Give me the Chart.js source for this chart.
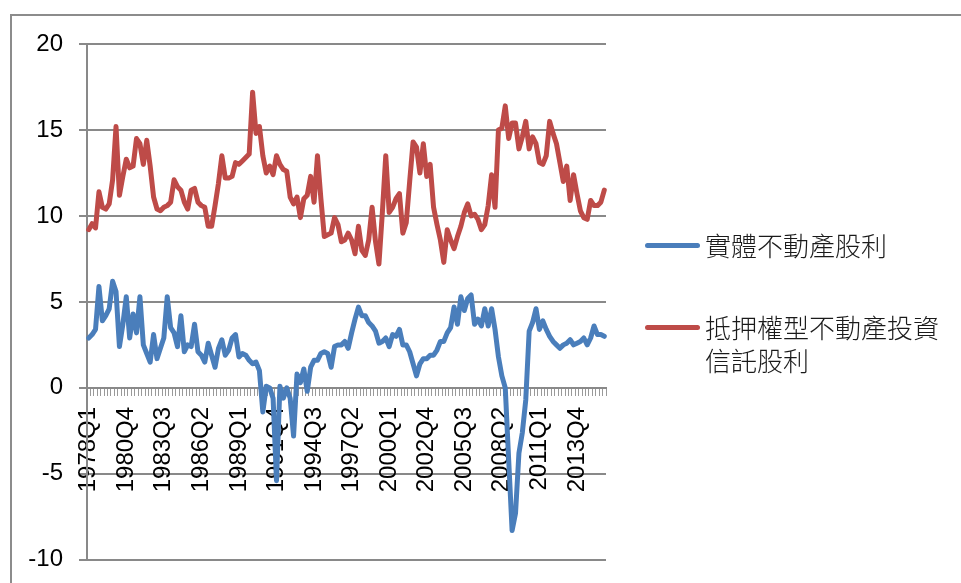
<!DOCTYPE html>
<html>
<head>
<meta charset="utf-8">
<script src="https://cdn.jsdelivr.net/npm/chart.js@4/dist/chart.umd.min.js"></script>
<style>
    body { margin: 0; background: #fff; }
    #wrap { position: relative; width: 961px; height: 583px; overflow: hidden; }
    #frame { position: absolute; left: 10px; top: 14px; width: 1000px; height: 600px; border-top: 2px solid #8c8c8c; border-left: 2px solid #8c8c8c; }
    #chart { position: absolute; left: 0; top: 0; }
    .item { position: absolute; left: 645px; font-family: "Noto Sans CJK TC", "Noto Sans", sans-serif; font-weight: 300; font-size: 26px; line-height: 33px; color: #1a1a1a; }
    .item .swatch { position: absolute; left: 0; width: 55px; height: 5px; border-radius: 3px; }
    .item .text { position: absolute; left: 60px; width: 240px; }
</style>
</head>
<body>
<div id="wrap">
    <div id="frame"></div>
    <canvas id="chart" width="961" height="583"></canvas>
    <div id="legend"></div>
</div>
<script>
// quarterly, 1978Q1 .. 2015Q4
var firstYear = 1978;
var quarterCount = 152;

var realDividend = [
    2.9, 3.1, 3.4, 5.9, 3.9, 4.2, 4.6, 6.2, 5.6, 2.4,
    3.7, 5.3, 2.9, 4.3, 3.2, 5.3, 2.5, 2.0, 1.5, 3.1,
    1.7, 2.3, 2.9, 5.3, 3.5, 3.2, 2.4, 4.2, 2.1, 2.5,
    2.4, 3.7, 2.1, 1.9, 1.5, 2.6, 1.9, 1.2, 2.3, 2.8,
    1.9, 2.2, 2.9, 3.1, 1.8, 2.0, 1.9, 1.6, 1.4, 1.5,
    1.0, -1.4, 0.1, 0.0, -0.6, -5.4, 0.1, -0.6, 0.0, -0.6,
    -2.8, 0.8, 0.3, 1.1, -0.2, 1.2, 1.6, 1.6, 2.0, 2.1,
    2.0, 1.2, 2.4, 2.5, 2.5, 2.7, 2.3, 3.2, 4.0, 4.7,
    4.2, 4.2, 3.8, 3.6, 3.3, 2.6, 2.7, 2.9, 2.4, 3.1,
    3.0, 3.4, 2.5, 2.5, 2.1, 1.4, 0.7, 1.4, 1.7, 1.7,
    1.9, 1.9, 2.2, 2.7, 2.7, 3.2, 3.5, 4.7, 3.7, 5.3,
    4.5, 5.2, 5.4, 3.7, 4.0, 3.6, 4.6, 3.6, 4.6, 3.4,
    1.8, 0.7, 0.0, -4.2, -8.3, -7.3, -3.8, -2.6, -0.7, 3.3,
    3.8, 4.6, 3.4, 3.9, 3.4, 3.0, 2.7, 2.5, 2.3, 2.5,
    2.6, 2.8, 2.5, 2.6, 2.7, 2.9, 2.5, 2.9, 3.6, 3.1,
    3.1, 3.0
];

var mortgageDividend = [
    9.2, 9.55, 9.3, 11.4, 10.5, 10.4, 10.7, 12.1, 15.2, 11.2,
    12.3, 13.3, 12.8, 12.9, 14.5, 14.2, 13.0, 14.4, 12.9, 11.1,
    10.4, 10.3, 10.5, 10.6, 10.8, 12.1, 11.7, 11.5, 10.8, 10.4,
    11.5, 11.6, 10.8, 10.6, 10.5, 9.4, 9.4, 10.6, 11.9, 13.5,
    12.2, 12.2, 12.3, 13.1, 13.0, 13.2, 13.4, 13.6, 17.2, 14.8,
    15.2, 13.5, 12.5, 12.9, 12.4, 13.5, 13.0, 12.7, 12.6, 11.1,
    10.7, 11.1, 9.9, 11.0, 11.2, 12.3, 10.8, 13.5, 11.0, 8.8,
    8.9, 9.0, 9.9, 9.5, 8.5, 8.6, 9.0, 8.6, 7.8, 9.4,
    8.0, 7.7, 8.6, 10.5, 8.5, 7.2, 10.2, 13.5, 10.2, 10.5,
    11.0, 11.3, 9.0, 9.6, 12.0, 14.3, 14.0, 12.5, 14.2, 12.3,
    13.0, 10.5, 9.5, 8.6, 7.3, 9.2, 8.6, 8.1, 8.8, 9.4,
    10.2, 10.7, 10.0, 10.1, 9.8, 9.2, 9.5, 10.6, 12.4, 10.5,
    15.0, 15.1, 16.4, 14.5, 15.4, 15.4, 13.9, 14.6, 15.5, 13.9,
    14.6, 14.2, 13.1, 13.0, 13.5, 15.5, 14.8, 14.2, 13.1, 12.0,
    12.9, 10.9, 12.4, 11.3, 10.3, 9.9, 9.8, 10.9, 10.6, 10.6,
    10.8, 11.5
];

var seriesNames = ['實體不動產股利', '抵押權型不動產投資信託股利'];
var seriesColors = ['#4a7ebb', '#be4b48'];
var yTicks = [-10, -5, 0, 5, 10, 15, 20];
var labelEvery = 11;

var quarters = [];
for (var i = 0; i < quarterCount; i++)
{
    quarters.push((firstYear + Math.floor(i / 4)) + 'Q' + (i % 4 + 1));
}

var gridColor = '#898989';
var family = '"Liberation Sans", Arial, sans-serif';

function dataset(index, values)
{
    return {
        label: seriesNames[index],
        data: values,
        borderColor: seriesColors[index],
        backgroundColor: seriesColors[index],
        borderWidth: 5,
        pointRadius: 0,
        tension: 0,
        borderJoinStyle: 'round',
        borderCapStyle: 'round',
        fill: false
    };
}

new Chart(document.getElementById('chart'), {
    type: 'line',
    data: {
        labels: quarters,
        datasets: [dataset(0, realDividend), dataset(1, mortgageDividend)]
    },
    options: {
        responsive: false,
        animation: false,
        layout: { padding: { left: 0, top: 44, right: 355, bottom: 23 } },
        plugins: { legend: { display: false }, tooltip: { enabled: false } },
        scales: {
            x: {
                type: 'category',
                position: { y: 0 },
                offset: true,
                border: { display: true, color: gridColor, width: 2 },
                // long tick box pushes the labels down, the dash keeps the visible mark short
                grid: {
                    drawOnChartArea: false, drawTicks: true, tickLength: 19,
                    tickBorderDash: [7, 100], color: '#9a9a9a', lineWidth: 1, offset: true
                },
                ticks: {
                    autoSkip: false,
                    minRotation: 90,
                    maxRotation: 90,
                    padding: 0,
                    color: '#000',
                    font: { family: family, size: 24 },
                    callback: function (value, index)
                    {
                        return index % labelEvery == 0 ? quarters[index] : '';
                    }
                }
            },
            y: {
                min: yTicks[0],
                max: yTicks[yTicks.length - 1],
                afterFit: function (scale) { scale.width = 87; },
                afterBuildTicks: function (scale)
                {
                    scale.ticks = yTicks.map(function (v) { return { value: v }; });
                },
                border: { display: true, color: gridColor, width: 2 },
                grid: { color: gridColor, lineWidth: 2, tickLength: 8 },
                ticks: { color: '#000', font: { family: family, size: 24, lineHeight: 0.6 }, padding: 16 }
            }
        }
    }
});

// legend, right of the plot
var tops = [245, 327];
var legend = document.getElementById('legend');
seriesNames.forEach(function (name, i)
{
    var item = document.createElement('div');
    item.className = 'item';
    item.style.top = tops[i] + 'px';
    item.innerHTML = '<div class="swatch" style="top:-2px;background:' + seriesColors[i] + '"></div>' +
        '<div class="text" style="top:-17px">' + name + '</div>';
    legend.appendChild(item);
});
</script>
</body>
</html>
